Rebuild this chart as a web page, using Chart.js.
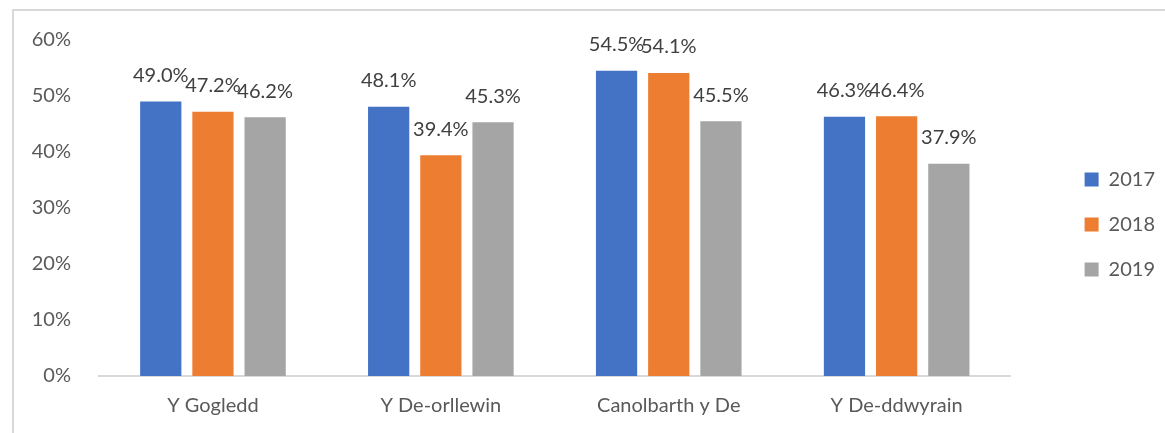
<!DOCTYPE html>
<html>
<head>
<meta charset="utf-8">
<script src="https://cdn.jsdelivr.net/npm/chart.js@4.4.1/dist/chart.umd.min.js"></script>
<style>
  html, body { margin: 0; padding: 0; background: #fff; }
  #wrap { position: relative; width: 1165px; height: 433px; overflow: hidden; }
  #chart { position: absolute; left: 0; top: 0; }
  #frame {
    position: absolute; left: 12px; top: 9px; width: 1200px; height: 500px;
    border-left: 2px solid #d9d9d9; border-top: 2px solid #d9d9d9; pointer-events: none;
  }
</style>
</head>
<body>
<div id="wrap">
  <canvas id="chart" width="1165" height="433"></canvas>
  <div id="frame"></div>
</div>
<script>
// regions (Welsh labels) and yearly shares, in %
const regions = ["Y Gogledd", "Y De-orllewin", "Canolbarth y De", "Y De-ddwyrain"];
const years = ["2017", "2018", "2019"];
const values2017 = [49.0, 48.1, 54.5, 46.3];
const values2018 = [47.2, 39.4, 54.1, 46.4];
const values2019 = [46.2, 45.3, 45.5, 37.9];
const yTicks = [0, 10, 20, 30, 40, 50, 60];

const colors = ["#4472C4", "#ED7D31", "#A5A5A5"];
const FONT = "Lato";

// draws "49.0%" above each bar
const barLabels = {
  id: "barLabels",
  afterDatasetsDraw(chart) {
    const ctx = chart.ctx;
    ctx.save();
    ctx.font = "20px " + FONT;
    ctx.fillStyle = "#404040";
    ctx.textAlign = "center";
    ctx.textBaseline = "middle";
    chart.data.datasets.forEach((ds, i) => {
      chart.getDatasetMeta(i).data.forEach((bar, j) => {
        ctx.fillText(ds.data[j].toFixed(1) + "%", bar.x, bar.y - 26);
      });
    });
    ctx.restore();
  }
};

new Chart(document.getElementById("chart"), {
  type: "bar",
  data: {
    labels: regions,
    datasets: [values2017, values2018, values2019].map((vals, i) => ({
      label: years[i],
      data: vals,
      backgroundColor: colors[i],
      categoryPercentage: 0.687,
      barPercentage: 0.79,
    })),
  },
  options: {
    responsive: false,
    animation: false,
    devicePixelRatio: 1,
    layout: { padding: { top: 39, right: 0, bottom: 0, left: 0 } },
    plugins: {
      tooltip: { enabled: false },
      legend: {
        position: "right",
        align: "center",
        fullSize: false,
        // empty title only pushes the items down to the middle of the frame
        title: { display: true, text: "", font: { family: FONT, size: 20 }, padding: 4.5 },
        labels: {
          boxWidth: 14,
          boxHeight: 14,
          padding: 25,
          color: "#595959",
          font: { family: FONT, size: 20 },
        },
      },
    },
    scales: {
      x: {
        grid: { display: false, drawTicks: false },
        border: { display: true, color: "#d9d9d9", width: 2 },
        ticks: { color: "#595959", font: { family: FONT, size: 20 }, padding: 18 },
        afterFit: (s) => { s.height = 57; },
      },
      y: {
        min: 0,
        max: 60,
        afterBuildTicks: (s) => { s.ticks = yTicks.map((v) => ({ value: v })); },
        grid: { display: false, drawTicks: false },
        border: { display: false },
        ticks: {
          color: "#595959",
          font: { family: FONT, size: 20 },
          padding: 28,
          callback: (v) => v + "%",
        },
        afterFit: (s) => { s.width = 99; },
      },
      // empty gap between plot and legend
      gap: {
        position: "right",
        display: true,
        grid: { display: false, drawTicks: false },
        border: { display: false },
        ticks: { display: false },
        afterFit: (s) => { s.width = 49; },
      },
    },
  },
  plugins: [barLabels],
});
</script>
</body>
</html>
